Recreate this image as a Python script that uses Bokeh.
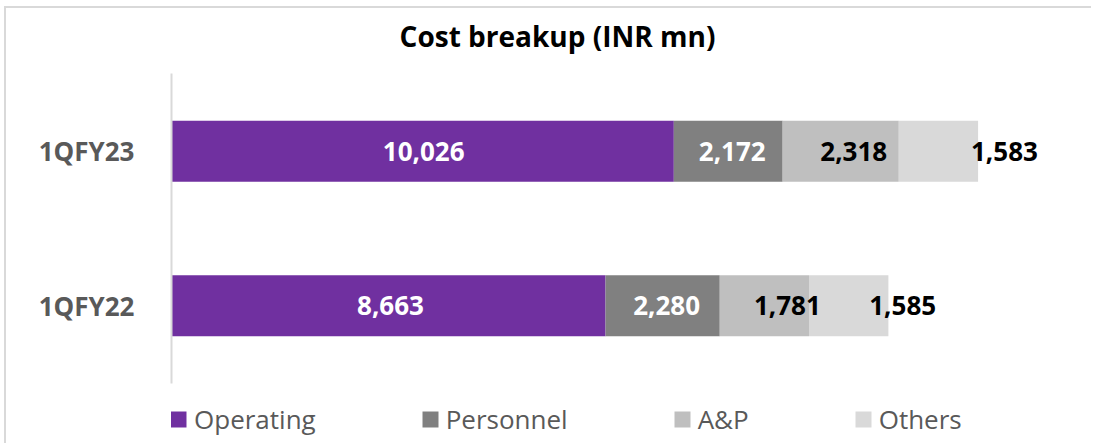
from bokeh.plotting import figure
from bokeh.models import ColumnDataSource, FactorRange, Range1d, Legend, LegendItem, Label
from bokeh.core.properties import value
from bokeh.embed import file_html
from bokeh.resources import INLINE

# ---- data ----
categories = ["1QFY22", "1QFY23"]
series_names = ["Operating", "Personnel", "A&P", "Others"]
operating = [8663, 10026]
personnel = [2280, 2172]
ap = [1781, 2318]
others = [1585, 1583]
title_text = "Cost breakup (INR mn)"

# ---- style ----
colors = ["#7030A0", "#808080", "#BFBFBF", "#D9D9D9"]
label_colors = ["white", "white", "black", "black"]
label_px_offsets = [[2, 1], [4, 4], [23, 13], [54, 66]]   # per series, per category
FONT = "Open Sans"

W, H = 1087, 437
B_LEFT, B_RIGHT, B_TOP, B_BOTTOM = 165, 8, 8, 5
frame_w = W - B_LEFT - B_RIGHT
x_end = 18243
pad = 0.372                      # extra factor-units above/below the two categories
px_per_unit = (H - B_TOP - B_BOTTOM) / (len(categories) + 2 * pad)

keys = ["operating", "personnel", "ap", "others"]
src = ColumnDataSource(dict(cat=categories, operating=operating, personnel=personnel, ap=ap, others=others))

p = figure(width=W, height=H,
           y_range=FactorRange(factors=categories, range_padding=pad, range_padding_units="percent"),
           x_range=Range1d(0, x_end), output_backend="svg", toolbar_location=None,
           min_border_left=B_LEFT, min_border_right=B_RIGHT, min_border_top=B_TOP,
           min_border_bottom=B_BOTTOM, outline_line_color=None, background_fill_color="white",
           border_fill_color="white")
p.margin = (6, 0, 0, 4)
p.styles = {"border-top": "2px solid #D9D9D9", "border-left": "2px solid #D9D9D9"}

rends = p.hbar_stack(keys, y="cat", height=0.395, color=colors, line_color=None, source=src)

# data labels
series_vals = [operating, personnel, ap, others]
lx, ly, lt, lc, lo = [], [], [], [], []
for ci, cat in enumerate(categories):
    left = 0
    for si, vals in enumerate(series_vals):
        v = vals[ci]
        lx.append(left + v / 2)
        ly.append(cat)
        lt.append(f"{v:,}")
        lc.append(label_colors[si])
        lo.append(label_px_offsets[si][ci])
        left += v
lsrc = ColumnDataSource(dict(x=lx, y=ly, t=lt, c=lc, o=lo))
p.text(x="x", y="y", text="t", text_color="c", x_offset="o", source=lsrc,
       text_font=value(FONT), text_font_style="bold", text_font_size="26px",
       text_align="center", text_baseline="middle")

# axes
p.xaxis.visible = False
p.xgrid.visible = False
p.ygrid.visible = False
ya = p.yaxis[0]
ya.bounds = (0, len(categories))
ya.axis_line_color = "#D9D9D9"
ya.axis_line_width = 2
ya.major_tick_line_color = None
ya.minor_tick_line_color = None
ya.major_tick_out = 0
ya.major_tick_in = 0
ya.major_label_standoff = 37
ya.major_label_text_font = FONT
ya.major_label_text_font_style = "bold"
ya.major_label_text_font_size = "26px"
ya.major_label_text_color = "#595959"

# title (inside the extended frame)
title_x = (551 - B_LEFT) / frame_w * x_end
title_y = len(categories) - 0.5 + (151 - 36) / px_per_unit
p.add_layout(Label(x=title_x, y=title_y, text=title_text, text_font=FONT, text_font_style="bold",
                   text_font_size="28px", text_align="center", text_baseline="middle",
                   text_color="black"))

# legend
lg = Legend(items=[LegendItem(label=series_names[i], renderers=[r]) for i, r in enumerate(rends)],
            location=(-3, 3), orientation="horizontal",
            padding=0, margin=0, spacing=104, glyph_width=20, glyph_height=20,
            label_standoff=6, label_height=16, border_line_color=None,
            background_fill_alpha=0, label_text_font=FONT, label_text_font_size="26px",
            label_text_color="#595959")
p.add_layout(lg)

open("out.html", "w").write(file_html(p, INLINE))
